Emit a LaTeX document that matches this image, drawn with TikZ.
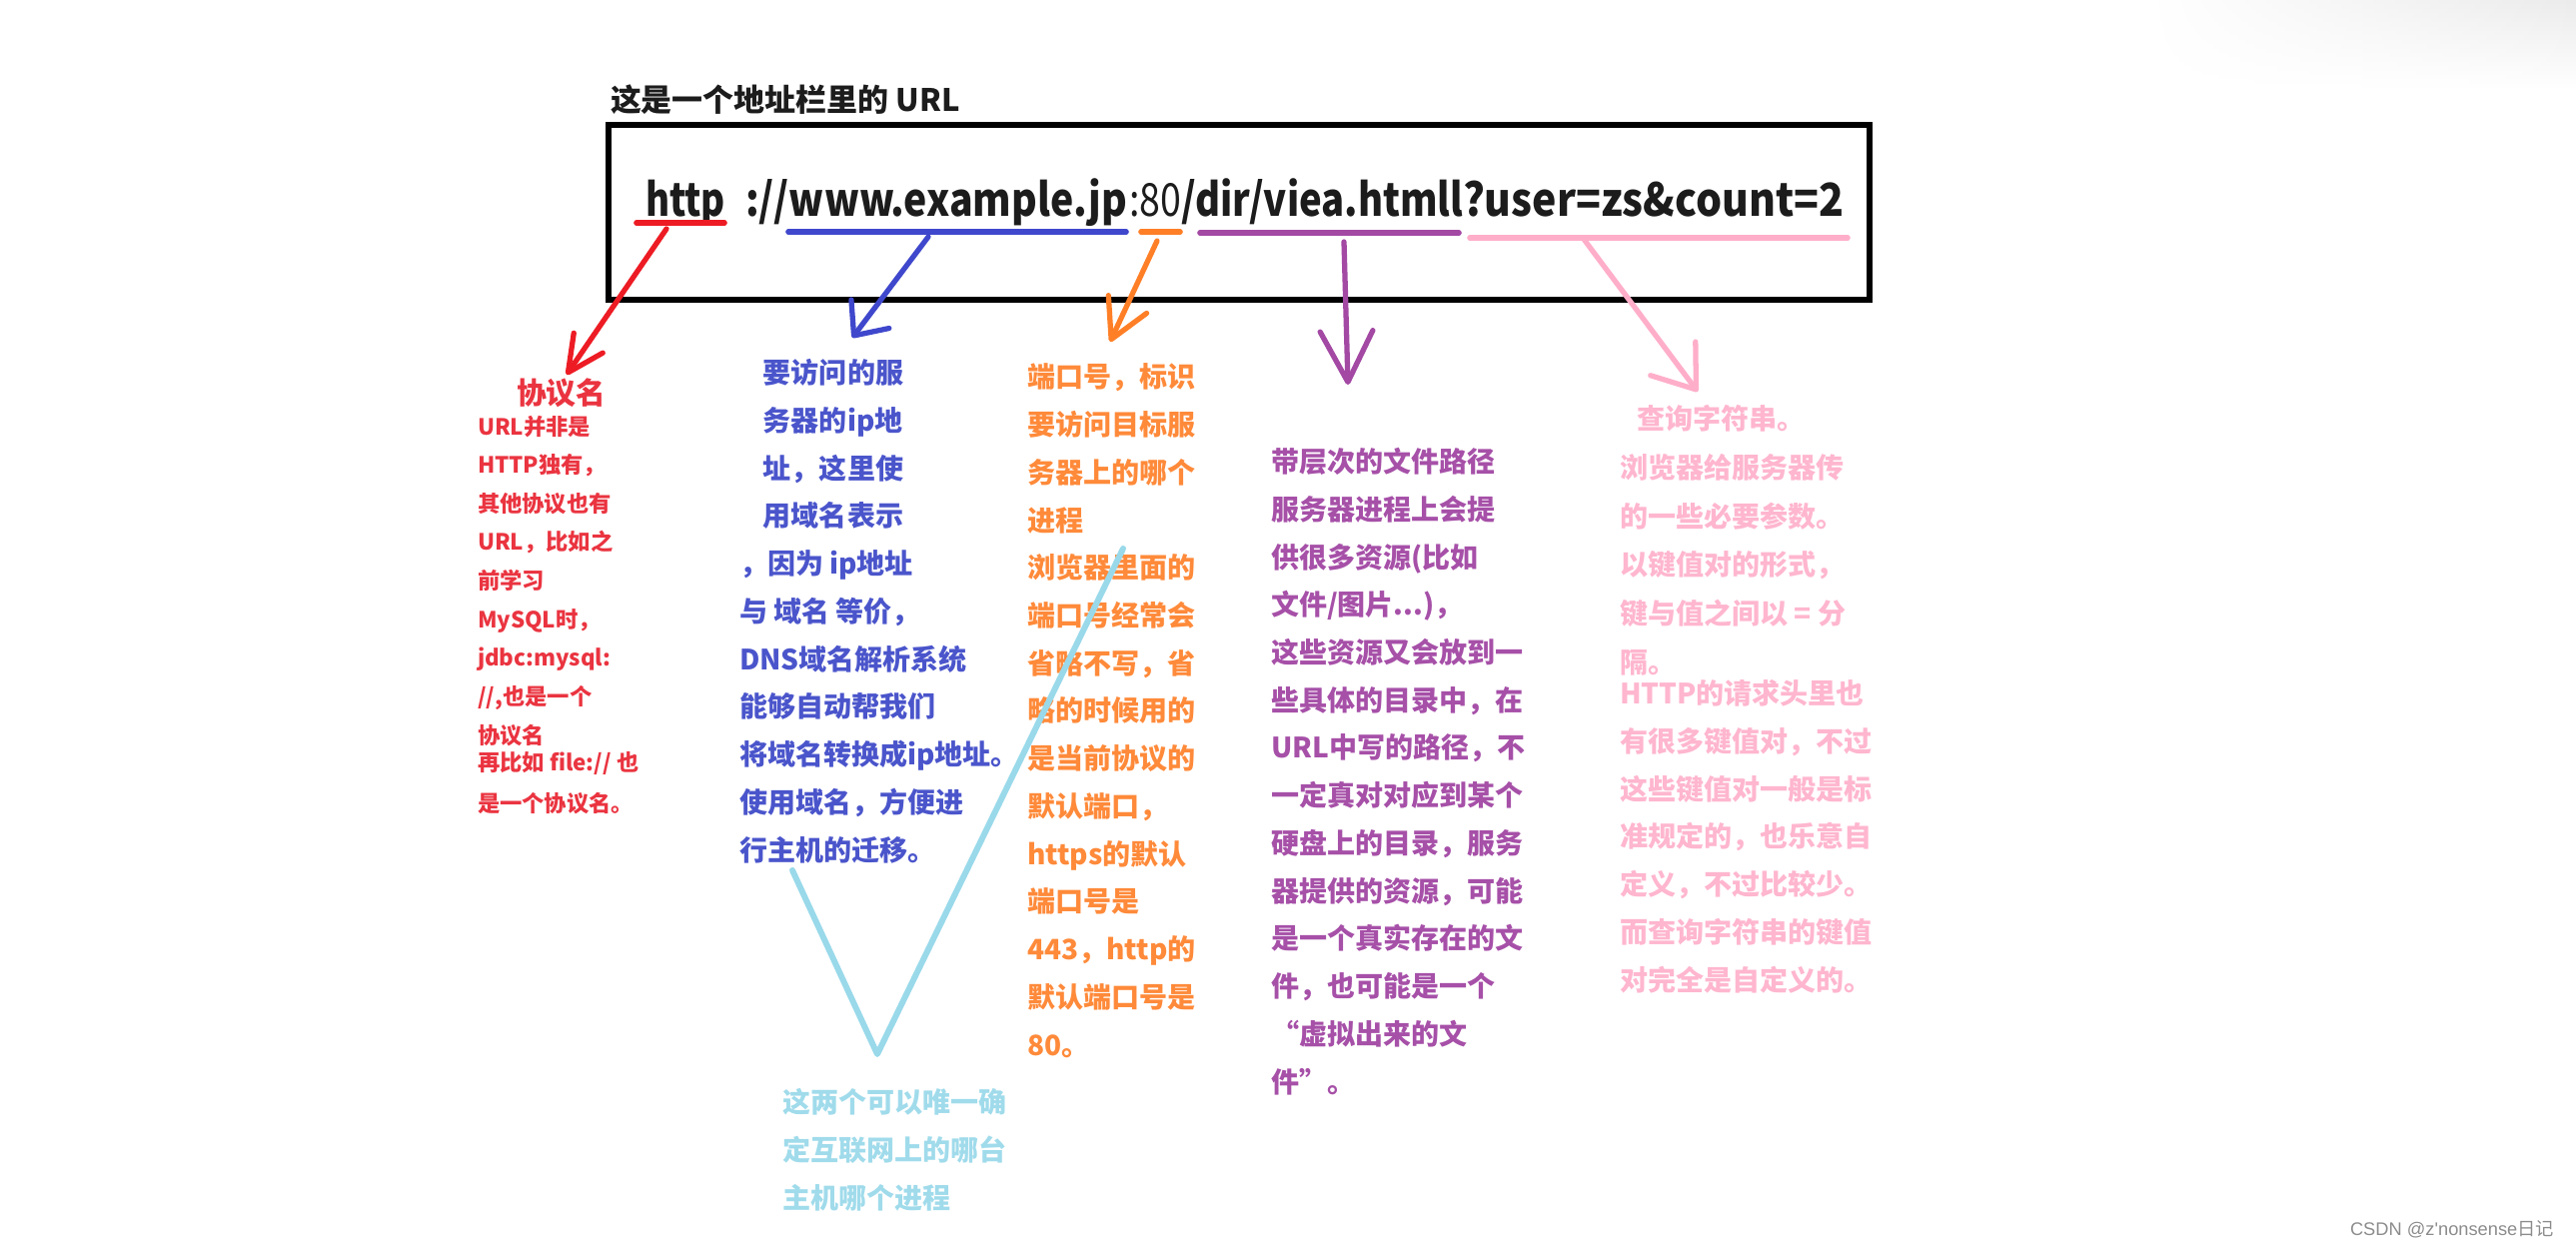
\documentclass[tikz,border=0pt]{standalone}
\usepackage{graphicx}
\usepackage{fontspec}
\setmainfont{Noto Sans CJK SC}
\newfontfamily\wmfont{Liberation Sans}
\usetikzlibrary{arrows.meta,fadings}
\definecolor{cred}{HTML}{ED1C24}
\definecolor{tred}{HTML}{EA3440}
\definecolor{cblue}{HTML}{3F48CC}
\definecolor{tblue}{HTML}{4A55CB}
\definecolor{corange}{HTML}{FF7F27}
\definecolor{torange}{HTML}{FF8A3A}
\definecolor{cpurple}{HTML}{A349A4}
\definecolor{tpurple}{HTML}{A650A8}
\definecolor{cpink}{HTML}{FFAEC9}
\definecolor{tpink}{HTML}{FFB6CE}
\definecolor{cltblue}{HTML}{99D9EA}
\definecolor{tltblue}{HTML}{A0DBEB}
\definecolor{urltext}{HTML}{1C1C1C}
\definecolor{wmark}{HTML}{8C8C8C}
\newcommand{\fwq}[1]{{\addfontfeature{CharacterWidth=Full}#1}}
\newcommand{\fitw}[2]{\resizebox{#1}{\height}{#2}}
\tikzfading[name=fadefromleft, left color=transparent!100, right color=transparent!0]
\tikzset{
  every node/.style={inner sep=0pt, outer sep=0pt},
  txt/.style={anchor=base west, align=left, font=\bfseries\fontsize{7.97pt}{13.57pt}\selectfont},
  urlseg/.style={anchor=base west, text=urltext, font=\bfseries\fontsize{12.95pt}{14pt}\selectfont},
  uline/.style={line width=1.6pt, line cap=round},
  hand/.style={line width=1.5pt, line cap=round, line join=round},
}
\begin{document}
\begin{tikzpicture}[x=0.01cm, y=-0.01cm]
\useasboundingbox (0,0) rectangle (2578,1249);
% faint shadow top right
\shade[top color=black!8, bottom color=white, path fading=fadefromleft] (2150,0) rectangle (2578,90);

% title
\node[anchor=base west, text=urltext, font=\bfseries\fontsize{8.8pt}{10pt}\selectfont] (title) at (611,112) {这是一个地址栏里的 URL};

% address bar box
\draw[line width=1.45pt] (609,125) rectangle (1871,300);

% URL segments
\node[urlseg] (proto) at (646,217) {\fitw{0.80cm}{http}};
\node[urlseg] (host) at (746,217) {\fitw{3.82cm}{://www.example.jp}};
\node[urlseg, font=\fontsize{12.95pt}{14pt}\selectfont] (port) at (1130,217) {\fitw{0.52cm}{:80}};
\node[urlseg] (path) at (1182,217) {\fitw{2.82cm}{/dir/viea.htmll}};
\node[urlseg] (query) at (1464,217) {\fitw{3.81cm}{?user=zs\&count=2}};

% underlines
\draw[uline, cred] (637,223) -- (725,223);
\draw[uline, cblue] (789,232) -- (1127,232);
\draw[uline, corange] (1142,232) -- (1181,232);
\draw[uline, cpurple] (1201,233) -- (1460,233);
\draw[uline, cpink] (1471,238) -- (1849,238);

% arrow endpoints
\coordinate (rs) at (667,229);  \coordinate (re) at (567,375);
\coordinate (bs) at (929,237);  \coordinate (be) at (853,338);
\coordinate (os) at (1158,241); \coordinate (oe) at (1111,342);
\coordinate (ps) at (1345,242); \coordinate (pe) at (1349,385);
\coordinate (ks) at (1584,238); \coordinate (ke) at (1699,392);

\draw[hand, cred, -{Straight Barb[round, length=10.2pt, width=10pt]}] (rs) -- (re);
\draw[hand, cblue, -{Straight Barb[round, length=7.7pt, width=13.5pt]}] (bs) -- (be);
\draw[hand, corange, -{Straight Barb[round, length=11pt, width=12pt]}] (os) -- (oe);
\draw[hand, cpurple, -{Straight Barb[round, length=14.5pt, width=15pt]}] (ps) -- (pe);
\draw[hand, cpink, -{Straight Barb[round, length=11pt, width=16pt]}] (ks) -- (ke);

% protocol (anchors are at the baseline of the last line)
\node[anchor=base west, text=tred, font=\bfseries\fontsize{8.5pt}{10pt}\selectfont] (protot) at (517,405) {协议名};
\node[txt, text=tred, font=\bfseries\fontsize{6.35pt}{10.98pt}\selectfont] (protob1) at (478,744)
  {URL并非是\\HTTP独有，\\其他协议也有\\URL，比如之\\前学习\\MySQL时，\\jdbc:mysql:\\//,也是一个\\协议名};
\node[txt, text=tred, font=\bfseries\fontsize{6.35pt}{11.4pt}\selectfont] (protob2) at (478,812)
  {再比如 file:// 也\\是一个协议名。};

% host
\node[txt, text=tblue] (hostt) at (740,861)
  {\hspace*{6.8pt}要访问的服\\\hspace*{6.8pt}务器的ip地\\\hspace*{6.8pt}址，这里使\\\hspace*{6.8pt}用域名表示\\，因为 ip地址\\与 域名 等价，\\DNS域名解析系统\\能够自动帮我们\\将域名转换成ip地址。\\使用域名，方便进\\行主机的迁移。};

% port
\node[txt, text=torange] (portt) at (1028,1056)
  {端口号，标识\\要访问目标服\\务器上的哪个\\进程\\浏览器里面的\\端口号经常会\\省略不写，省\\略的时候用的\\是当前协议的\\默认端口，\\https的默认\\端口号是\\443，http的\\默认端口号是\\80。};

% path
\node[txt, text=tpurple] (patht) at (1272,1093)
  {带层次的文件路径\\服务器进程上会提\\供很多资源(比如\\文件/图片...)，\\这些资源又会放到一\\些具体的目录中，在\\URL中写的路径，不\\一定真对对应到某个\\硬盘上的目录，服务\\器提供的资源，可能\\是一个真实存在的文\\件，也可能是一个\\\fwq{“}虚拟出来的文\\件\fwq{”}。};

% query
\node[txt, text=tpink, font=\bfseries\fontsize{7.97pt}{13.83pt}\selectfont] (queryt1) at (1621,673)
  {\hspace*{5pt}查询字符串。\\浏览器给服务器传\\的一些必要参数。\\以键值对的形式，\\键与值之间以 = 分\\隔。};
\node[txt, text=tpink] (queryt2) at (1621,991)
  {HTTP的请求头里也\\有很多键值对，不过\\这些键值对一般是标\\准规定的，也乐意自\\定义，不过比较少。\\而查询字符串的键值\\对完全是自定义的。};

% host + port together
\coordinate (va) at (793,871);
\coordinate (vb) at (878,1055);
\coordinate (vc) at (1124,549);
\draw[hand, cltblue, line width=1.7pt] (va) -- (vb) -- (vc);
\node[txt, text=tltblue] (bothtext) at (783,1209)
  {这两个可以唯一确\\定互联网上的哪台\\主机哪个进程};

% watermark
\node[anchor=base west, text=wmark, font=\fontsize{5.2pt}{6pt}\selectfont] (wm) at (2352,1236) {{\wmfont CSDN @z\char"0027nonsense}日记};
\end{tikzpicture}
\end{document}
